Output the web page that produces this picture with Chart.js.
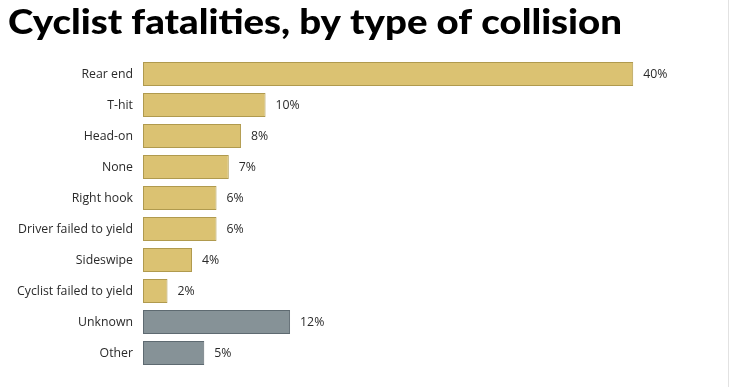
<!DOCTYPE html>
<html>
<head>
<meta charset="utf-8">
<script src="https://cdn.jsdelivr.net/npm/chart.js@4/dist/chart.umd.min.js"></script>
<style>
  html, body { margin: 0; padding: 0; background: #fff; }
  #wrap { width: 728px; height: 387px; position: relative; border-right: 1px solid #e2e2e2; }
</style>
</head>
<body>
<div id="wrap"><canvas id="myChart"></canvas></div>
<script>
let chartTitle = 'Cyclist fatalities, by type of collision'
let categories = ['Rear end', 'T-hit', 'Head-on', 'None', 'Right hook', 'Driver failed to yield', 'Sideswipe', 'Cyclist failed to yield', 'Unknown', 'Other']
let shares = [40, 10, 8, 7, 6, 6, 4, 2, 12, 5]
// last two are the "not classified" group, drawn grey
let isOther = [false, false, false, false, false, false, false, false, true, true]

let gold = '#dbc272'
let goldEdge = '#b09a4e'
let grey = '#869297'
let greyEdge = '#5e6a71'

// heavy headline, stretched to the reference width
let headline = {
	id: 'headline',
	afterDraw(chart) {
		let ctx = chart.ctx
		ctx.save()
		ctx.font = '900 34px Lato, "DejaVu Sans", sans-serif'
		ctx.fillStyle = '#000'
		ctx.textAlign = 'left'
		ctx.textBaseline = 'alphabetic'
		let w = ctx.measureText(chartTitle).width
		ctx.translate(8, 34)
		ctx.scale(614 / w, 1)
		ctx.fillText(chartTitle, 0, 0)
		ctx.restore()
	},
}

// draws "40%" etc. just past the end of each bar
let valueLabels = {
	id: 'valueLabels',
	afterDatasetsDraw(chart) {
		let ctx = chart.ctx
		let meta = chart.getDatasetMeta(0)
		ctx.save()
		ctx.font = '12.3px "Open Sans", sans-serif'
		ctx.fillStyle = '#2a2a2a'
		ctx.textAlign = 'left'
		ctx.textBaseline = 'middle'
		meta.data.forEach((bar, i) => {
			ctx.fillText(shares[i] + '%', bar.x + 10, bar.y)
		})
		ctx.restore()
	},
}

var ctx = document.getElementById('myChart').getContext('2d')
var myChart = new Chart(ctx, {
	type: 'bar',
	data: {
		labels: categories,
		datasets: [
			{
				data: shares,
				backgroundColor: isOther.map((o) => (o ? grey : gold)),
				borderColor: isOther.map((o) => (o ? greyEdge : goldEdge)),
				borderWidth: 1,
				borderSkipped: false,
				inflateAmount: 0,
				barPercentage: 0.774,
				categoryPercentage: 1,
			},
		],
	},
	options: {
		indexAxis: 'y',
		responsive: true,
		maintainAspectRatio: false,
		animation: false,
		layout: {
			padding: { left: 8, right: 9, top: 58.5, bottom: 18.5 },
		},
		plugins: {
			legend: { display: false },
			tooltip: { enabled: false },
		},
		scales: {
			x: {
				display: false,
				min: 0,
				max: 47,
			},
			y: {
				grid: { display: false, drawTicks: false },
				border: { display: false },
				ticks: {
					color: '#2a2a2a',
					padding: 10,
					font: { family: '"Open Sans", sans-serif', size: 12.3 },
				},
				afterFit(scale) {
					scale.width = 135
				},
			},
		},
	},
	plugins: [valueLabels, headline],
})
</script>
</body>
</html>
